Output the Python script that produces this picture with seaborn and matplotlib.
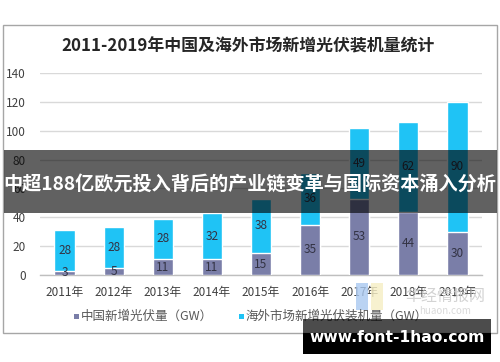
import matplotlib
matplotlib.use("Agg")
import matplotlib.pyplot as plt
import seaborn as sns
import pandas as pd
import numpy as np
from matplotlib.patches import Rectangle

years = ["2011年", "2012年", "2013年", "2014年", "2015年", "2016年", "2017年", "2018年", "2019年"]
china = [3, 5, 11, 11, 15, 35, 53, 44, 30]
overseas = [28, 28, 28, 32, 38, 36, 49, 62, 90]
yticks = [0, 20, 40, 60, 80, 100, 120, 140]
title = "2011-2019年中国及海外市场新增光伏装机量统计"
legend_labels = ["中国新增光伏量（GW）", "海外市场新增光伏装机量（GW）"]
banner = "中超188亿欧元投入背后的产业链变革与国际资本涌入分析"
watermark = "www.font-1hao.com"

sns.set_theme(style="white")
plt.rcParams['font.family'] = ['Noto Sans CJK SC', 'DejaVu Sans']

W, H = 500, 362
fig = plt.figure(figsize=(W / 100, H / 100), dpi=100)
fig.patch.set_facecolor("white")

def fx(x):
    return x / W

def fy(y):
    return 1 - y / H

# outer frame
fig.add_artist(Rectangle((fx(3), fy(333)), fx(494), (333 - 25) / H,
                         transform=fig.transFigure, fill=False,
                         edgecolor="#a6a6a6", linewidth=1.0))

fig.text(fx(248), fy(46), title, ha="center", va="center",
         fontsize=12.2, fontweight="bold", color="#262626")

left, right, top, bottom = 40, 482, 73, 275
ax = fig.add_axes([fx(left), fy(bottom), (right - left) / W, (bottom - top) / H])

df = pd.DataFrame({"year": years, "china": china, "overseas": overseas})
df["total"] = df["china"] + df["overseas"]

c_china = "#7a7ea8"
c_over = "#1fc3f5"
sns.barplot(data=df, x="year", y="total", color=c_over, width=0.41,
            saturation=1, ax=ax, zorder=2)
sns.barplot(data=df, x="year", y="china", color=c_china, width=0.41,
            saturation=1, ax=ax, zorder=3)

for i, (c, o) in enumerate(zip(china, overseas)):
    ax.text(i, c / 2, str(c), ha="center", va="center", fontsize=8.5,
            color="#333344", zorder=4)
    ax.text(i, c + o / 2, str(o), ha="center", va="center", fontsize=8.5,
            color="#333344", zorder=4)

ax.set_ylim(0, 140)
ax.set_xlim(-0.5, 8.5)
ax.set_yticks(yticks)
ax.yaxis.grid(True, color="#d9d9d9", linewidth=1.0, zorder=0)
ax.set_axisbelow(True)
for s in ["top", "right", "left"]:
    ax.spines[s].set_visible(False)
ax.spines["bottom"].set_color("#bfbfbf")
ax.spines["bottom"].set_linewidth(1.0)
ax.set_xlabel("")
ax.set_ylabel("")
ax.tick_params(axis="y", length=0, labelsize=8.5, labelcolor="#404040", pad=10)
ax.tick_params(axis="x", which="major", length=0, labelsize=8.5, labelcolor="#404040", pad=8)
ax.set_xticks(np.arange(-0.5, 9.0, 1.0), minor=True)
ax.tick_params(axis="x", which="minor", length=4, color="#bfbfbf", width=1)

# legend
fig.add_artist(Rectangle((fx(74), fy(318.5)), 5 / W, 5 / H, transform=fig.transFigure,
                         facecolor=c_china, edgecolor="none"))
fig.text(fx(81), fy(316), legend_labels[0], ha="left", va="center",
         fontsize=9, color="#595959")
fig.add_artist(Rectangle((fx(239), fy(318.5)), 5 / W, 5 / H, transform=fig.transFigure,
                         facecolor=c_over, edgecolor="none"))
fig.text(fx(246), fy(316), legend_labels[1], ha="left", va="center",
         fontsize=9, color="#595959")

# source logo watermark
fig.add_artist(Rectangle((fx(356), fy(310)), 12 / W, 27 / H, transform=fig.transFigure,
                         facecolor="#a9c8f0", edgecolor="none", alpha=0.8))
fig.add_artist(Rectangle((fx(371), fy(310)), 12 / W, 27 / H, transform=fig.transFigure,
                         facecolor="#f6eec4", edgecolor="none", alpha=0.8))
fig.text(fx(445), fy(296), "华经情报网", ha="center", va="center",
         fontsize=11.5, color="#c8c8c8", alpha=0.8)
fig.text(fx(445), fy(311), "huaon.com", ha="center", va="center",
         fontsize=7, color="#d0d0d0", alpha=0.8)

# banner overlay
fig.add_artist(Rectangle((fx(3.5), fy(213)), fx(493.5), 63 / H, transform=fig.transFigure,
                         facecolor="black", edgecolor="none", alpha=0.62, zorder=10))
fig.text(fx(250), fy(184), banner, ha="center", va="center", fontsize=13.8,
         fontweight="bold", color="white", zorder=11)

# site watermark
fig.add_artist(Rectangle((fx(303), fy(333)), 188 / W, 14 / H, transform=fig.transFigure,
                         facecolor="black", edgecolor="none", alpha=0.7, zorder=10))
fig.add_artist(Rectangle((fx(303), fy(354)), 188 / W, 21 / H, transform=fig.transFigure,
                         facecolor="black", edgecolor="none", zorder=10))
fig.text(fx(397), fy(337), watermark, ha="center", va="center", fontsize=11.2,
         fontweight="bold", color="white", family=["DejaVu Sans"], zorder=11)

fig.savefig("out.png", dpi=100)
